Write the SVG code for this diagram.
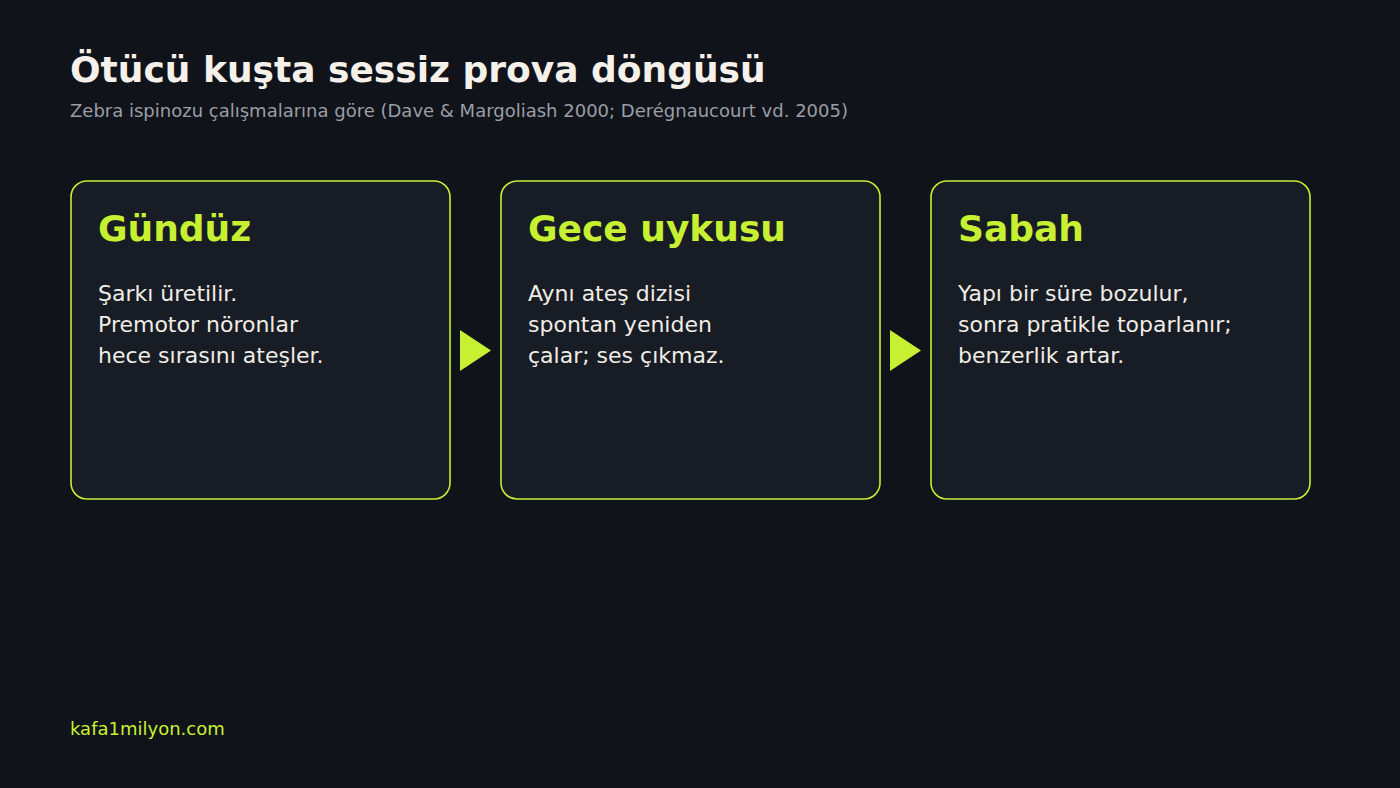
<svg xmlns="http://www.w3.org/2000/svg" width="1400" height="788" viewBox="0 0 1400 788">
<style>
.bg{fill:#10131a}
.card{fill:#181c24;stroke:#c8f032;stroke-width:1.6}
.title{font-family:"DejaVu Sans",sans-serif;font-weight:bold;font-size:36px;fill:#f5f1ea}
.sub{font-family:"DejaVu Sans",sans-serif;font-size:18px;fill:#9a9ea6}
.head{font-family:"DejaVu Sans",sans-serif;font-weight:bold;font-size:36px;fill:#c8f032}
.body{font-family:"DejaVu Sans",sans-serif;font-size:22px;fill:#f0ece6}
.foot{font-family:"DejaVu Sans",sans-serif;font-size:18px;fill:#c8f032}
.arrow{fill:#c8f032}
</style>
<rect class="bg" x="0" y="0" width="1400" height="788"/>
<text class="title" x="70" y="82">Ötücü kuşta sessiz prova döngüsü</text>
<text class="sub" x="70" y="117">Zebra ispinozu çalışmalarına göre (Dave &amp; Margoliash 2000; Derégnaucourt vd. 2005)</text>
<g id="node-gunduz">
<rect class="card" x="71" y="181" width="379" height="318" rx="16"/>
<text class="head" x="98" y="241">Gündüz</text>
<text class="body" x="98" y="301">Şarkı üretilir.</text>
<text class="body" x="98" y="332">Premotor nöronlar</text>
<text class="body" x="98" y="363">hece sırasını ateşler.</text>
</g>
<g id="node-gece">
<rect class="card" x="501" y="181" width="379" height="318" rx="16"/>
<text class="head" x="528" y="241">Gece uykusu</text>
<text class="body" x="528" y="301">Aynı ateş dizisi</text>
<text class="body" x="528" y="332">spontan yeniden</text>
<text class="body" x="528" y="363">çalar; ses çıkmaz.</text>
</g>
<g id="node-sabah">
<rect class="card" x="931" y="181" width="379" height="318" rx="16"/>
<text class="head" x="958" y="241">Sabah</text>
<text class="body" x="958" y="301">Yapı bir süre bozulur,</text>
<text class="body" x="958" y="332">sonra pratikle toparlanır;</text>
<text class="body" x="958" y="363">benzerlik artar.</text>
</g>
<g id="connectors">
<polygon class="arrow" points="460,330 491,350.5 460,371"/>
<polygon class="arrow" points="890,330 921,350.5 890,371"/>
</g>
<text class="foot" x="70" y="735">kafa1milyon.com</text>
</svg>
